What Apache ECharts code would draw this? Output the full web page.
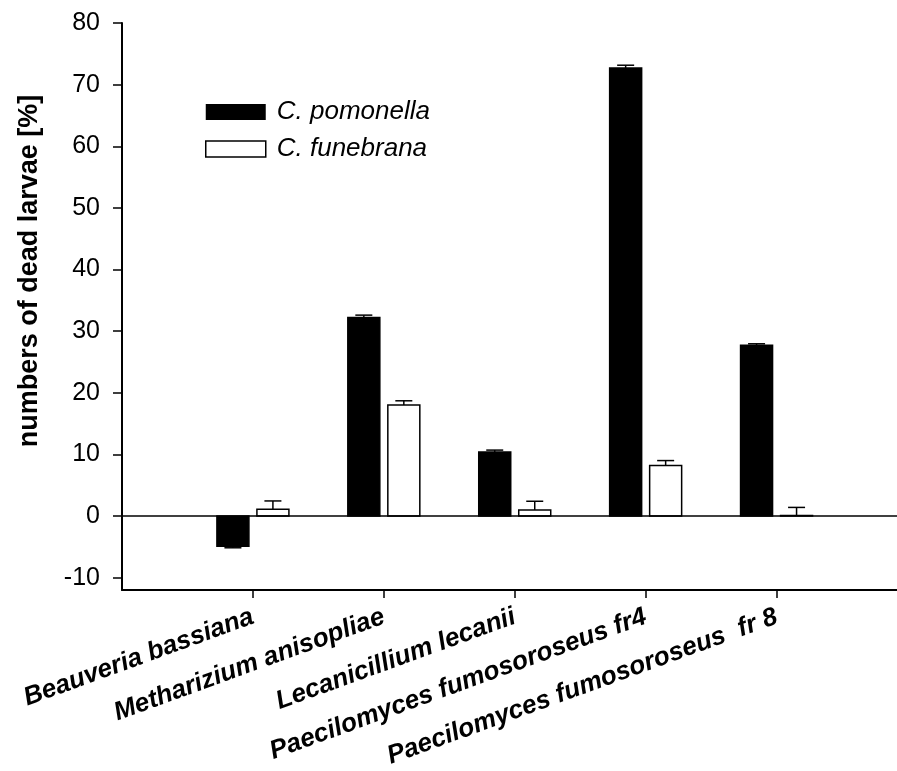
<!DOCTYPE html>
<html>
<head>
<meta charset="utf-8">
<script src="https://cdn.jsdelivr.net/npm/echarts@6/dist/echarts.min.js"></script>
<style>
  html, body { margin: 0; padding: 0; background: #fff; }
  #chart { width: 897px; height: 771px; }
</style>
</head>
<body>
<div id="chart"></div>
<script>
// data
var fungi = ['Beauveria bassiana', 'Metharizium anisopliae', 'Lecanicillium lecanii',
             'Paecilomyces fumosoroseus fr4', 'Paecilomyces fumosoroseus  fr 8'];
var pomonella = [-4.9, 32.2, 10.4, 72.7, 27.7];
var pomonellaErr = [0.25, 0.4, 0.3, 0.45, 0.25];
var funebrana = [1.1, 18.0, 1.0, 8.2, 0.1];
var funebranaErr = [1.35, 0.7, 1.4, 0.8, 1.3];
var yTicks = [-10, 0, 10, 20, 30, 40, 50, 60, 70, 80];
var xTicks = [1, 2, 3, 4, 5];

var FONT = 'Liberation Sans, Arial, sans-serif';

function toData(vals, errs) {
  var out = [];
  for (var i = 0; i < vals.length; i++) {
    out.push([i + 1, vals[i], errs[i]]);
  }
  return out;
}

// bar + error bar, shifted left/right of the tick
function barRenderer(offset, fill) {
  return function (params, api) {
    var x = api.value(0), v = api.value(1), e = api.value(2);
    var base = api.coord([x, 0]);
    var top = api.coord([x, v]);
    var cap = api.coord([x, v + (v < 0 ? -e : e)]);
    var cx = base[0] + offset;
    var w = 32;
    return {
      type: 'group',
      children: [
        {
          type: 'line',
          shape: { x1: cx, y1: top[1], x2: cx, y2: cap[1] },
          style: { stroke: '#000', lineWidth: 1.5 }
        },
        {
          type: 'line',
          shape: { x1: cx - 8.5, y1: cap[1], x2: cx + 8.5, y2: cap[1] },
          style: { stroke: '#000', lineWidth: 1.5 }
        },
        {
          type: 'rect',
          shape: { x: cx - w / 2, y: Math.min(base[1], top[1]), width: w, height: Math.abs(top[1] - base[1]) },
          style: { fill: fill, stroke: '#000', lineWidth: 1.5 }
        }
      ]
    };
  };
}

var myChart = echarts.init(document.getElementById('chart'), null, { renderer: 'canvas' });
var option = {
  animation: false,
  backgroundColor: '#fff',
  grid: { left: 122, right: 0, top: 23, bottom: 181, containLabel: false, outerBoundsMode: 'none' },
  legend: {
    left: 200,
    top: 94,
    orient: 'vertical',
    itemWidth: 60,
    itemHeight: 16,
    itemGap: 11,
    textStyle: { fontFamily: FONT, fontSize: 26, fontStyle: 'italic', color: '#000', padding: [0, 0, 0, 6] },
    data: [
      { name: 'C. pomonella', icon: 'rect', itemStyle: { color: '#000', borderWidth: 0 } },
      { name: 'C. funebrana', icon: 'rect', itemStyle: { color: '#fff', borderColor: '#000', borderWidth: 1.5 } }
    ]
  },
  xAxis: {
    type: 'value',
    min: 0,
    max: 5.92,
    splitLine: { show: false },
    axisLine: { onZero: false, lineStyle: { color: '#000', width: 2 } },
    axisTick: { customValues: xTicks, length: 8, inside: false, lineStyle: { color: '#000', width: 1.5 } },
    axisLabel: {
      customValues: xTicks,
      rotate: 20,
      margin: 26,
      fontFamily: FONT,
      fontSize: 26,
      fontWeight: 'bold',
      fontStyle: 'italic',
      color: '#000',
      formatter: function (v) { return fungi[v - 1]; }
    }
  },
  yAxis: {
    type: 'value',
    min: -12,
    max: 80,
    splitLine: { show: false },
    axisLine: { onZero: false, lineStyle: { color: '#000', width: 2 } },
    axisTick: { customValues: yTicks, length: 9, lineStyle: { color: '#000', width: 1.5 } },
    axisLabel: { customValues: yTicks, margin: 22, fontFamily: FONT, fontSize: 25, color: '#000' }
  },
  graphic: [{
    type: 'text',
    x: 30,
    y: 271,
    rotation: Math.PI / 2,
    style: {
      text: 'numbers of dead larvae [%]',
      fontFamily: FONT,
      fontSize: 27,
      fontWeight: 'bold',
      fill: '#000',
      align: 'center',
      verticalAlign: 'middle'
    }
  }],
  series: [
    {
      name: 'C. pomonella',
      type: 'custom',
      itemStyle: { color: '#000' },
      renderItem: barRenderer(-20, '#000'),
      encode: { x: 0, y: 1 },
      data: toData(pomonella, pomonellaErr),
      markLine: {
        silent: true,
        symbol: 'none',
        label: { show: false },
        lineStyle: { color: '#000', width: 1.5, type: 'solid' },
        data: [{ yAxis: 0 }]
      },
      z: 3
    },
    {
      name: 'C. funebrana',
      type: 'custom',
      itemStyle: { color: '#fff', borderColor: '#000', borderWidth: 1.5 },
      renderItem: barRenderer(20, '#fff'),
      encode: { x: 0, y: 1 },
      data: toData(funebrana, funebranaErr),
      z: 3
    }
  ]
};
myChart.setOption(option);
</script>
</body>
</html>
